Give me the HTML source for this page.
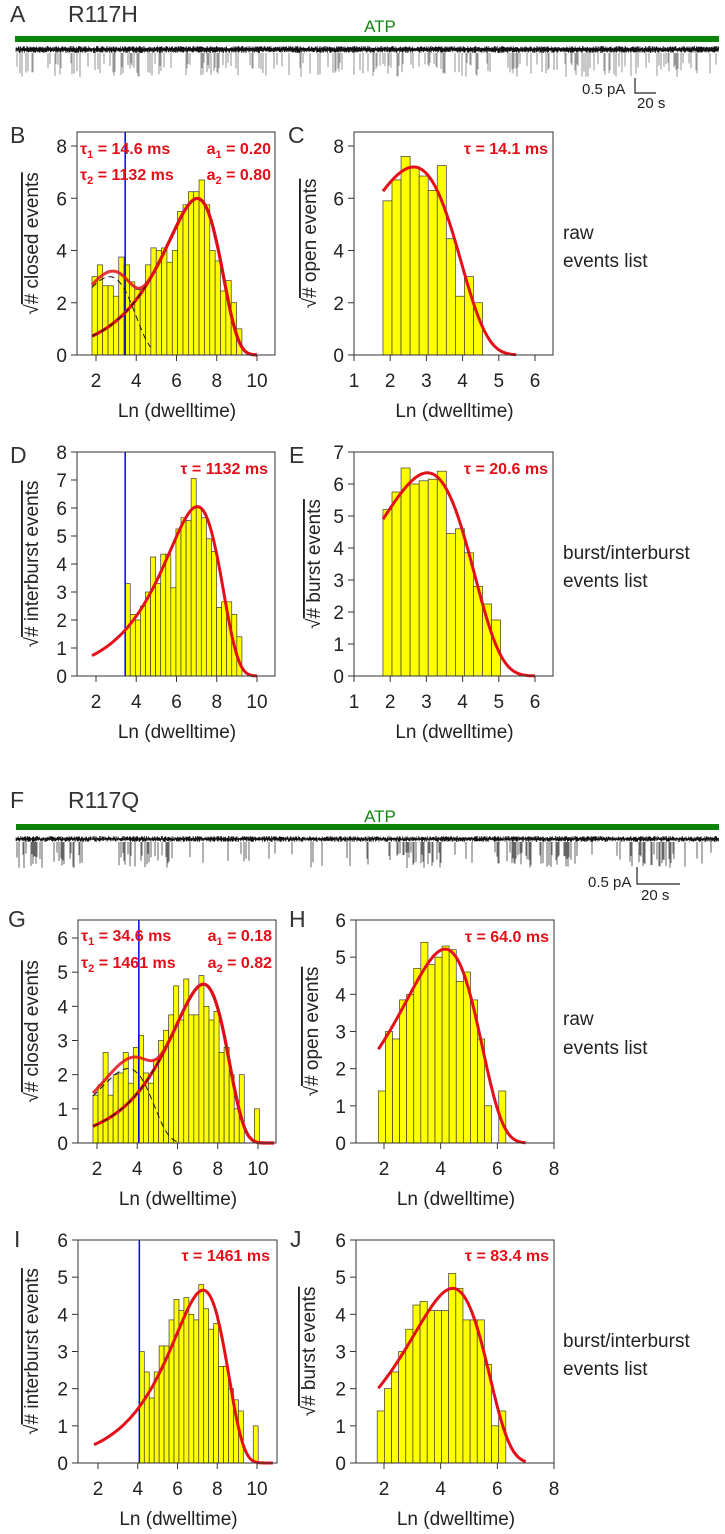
<!DOCTYPE html>
<html><head><meta charset="utf-8"><style>
html,body{margin:0;padding:0;background:#fff}
svg{display:block;font-family:"Liberation Sans",Arial,sans-serif}
.lt{font-size:23px;fill:#333}
.yt{font-size:19px;fill:#222}
.xt{font-size:19px;fill:#222}
.an{font-size:16px;font-weight:bold;fill:#e3101a}
.rt{font-size:19px;fill:#222}
.sb{font-size:15px;fill:#222}
</style></head><body>
<svg id="fig" width="725" height="1534" viewBox="0 0 725 1534">
<g>
<text class="lt" x="10" y="22">A</text>
<text class="lt" x="68" y="22">R117H</text>
<text x="380" y="32" text-anchor="middle" font-size="17" fill="#118811">ATP</text>
<rect x="15" y="36" width="704" height="6" fill="#0a850a"/>
<g id="traceA"></g>
<text class="sb" x="582" y="94">0.5 pA</text>
<path d="M635 78 V93 H656" stroke="#222" fill="none" stroke-width="1.2"/>
<text class="sb" x="637" y="108">20 s</text>
</g>
<g>
<text class="lt" x="10" y="808">F</text>
<text class="lt" x="68" y="808">R117Q</text>
<text x="380" y="822" text-anchor="middle" font-size="17" fill="#118811">ATP</text>
<rect x="16" y="824" width="703" height="6" fill="#0a850a"/>
<g id="traceF"></g>
<text class="sb" x="588" y="887">0.5 pA</text>
<path d="M637 867 V884 H680" stroke="#222" fill="none" stroke-width="1.2"/>
<text class="sb" x="641" y="900">20 s</text>
</g>
<g>
<text class="lt" x="10" y="143">B</text>
<text class="lt" x="288" y="143">C</text>
<text class="lt" x="10" y="463">D</text>
<text class="lt" x="289" y="463">E</text>
<text class="lt" x="8" y="927">G</text>
<text class="lt" x="289" y="927">H</text>
<text class="lt" x="14" y="1247">I</text>
<text class="lt" x="290" y="1247">J</text>
</g>
<g>
<text class="rt" x="563" y="239">raw</text>
<text class="rt" x="563" y="267">events list</text>
<text class="rt" x="563" y="559">burst/interburst</text>
<text class="rt" x="563" y="587">events list</text>
<text class="rt" x="563" y="1025">raw</text>
<text class="rt" x="563" y="1054">events list</text>
<text class="rt" x="563" y="1347">burst/interburst</text>
<text class="rt" x="563" y="1375">events list</text>
</g>
<g id="plots"></g>
<g>
<text class="an" x="80" y="154">τ<tspan font-size="11" dy="4">1</tspan><tspan dy="-4"> = 14.6 ms</tspan></text>
<text class="an" x="80" y="180">τ<tspan font-size="11" dy="4">2</tspan><tspan dy="-4"> = 1132 ms</tspan></text>
<text class="an" x="271" y="154" text-anchor="end">a<tspan font-size="11" dy="4">1</tspan><tspan dy="-4"> = 0.20</tspan></text>
<text class="an" x="271" y="180" text-anchor="end">a<tspan font-size="11" dy="4">2</tspan><tspan dy="-4"> = 0.80</tspan></text>
<text class="an" x="548" y="154" text-anchor="end">τ = 14.1 ms</text>
<text class="an" x="268" y="474" text-anchor="end">τ = 1132 ms</text>
<text class="an" x="548" y="474" text-anchor="end">τ = 20.6 ms</text>
<text class="an" x="81" y="941">τ<tspan font-size="11" dy="4">1</tspan><tspan dy="-4"> = 34.6 ms</tspan></text>
<text class="an" x="81" y="968">τ<tspan font-size="11" dy="4">2</tspan><tspan dy="-4"> = 1461 ms</tspan></text>
<text class="an" x="272" y="941" text-anchor="end">a<tspan font-size="11" dy="4">1</tspan><tspan dy="-4"> = 0.18</tspan></text>
<text class="an" x="272" y="968" text-anchor="end">a<tspan font-size="11" dy="4">2</tspan><tspan dy="-4"> = 0.82</tspan></text>
<text class="an" x="549" y="942" text-anchor="end">τ = 64.0 ms</text>
<text class="an" x="270" y="1261" text-anchor="end">τ = 1461 ms</text>
<text class="an" x="549" y="1261" text-anchor="end">τ = 83.4 ms</text>
</g>
</svg>
<script>
// ---- data ----
const startB=1.8, endB=9.25;
const closedB=[3.0,3.45,2.65,2.65,2.25,3.75,3.45,2.8,2.5,2.5,3.45,4.1,4.0,4.1,3.55,4.0,5.5,5.75,6.25,6.25,6.7,5.75,4.0,3.6,2.45,2.85,2.0,1.0];
const tauB=[14.6,1132], aB=[0.20,0.80], ampB=122, cutB=3.45;
const startC=1.8, endC=4.55;
const openC=[5.9,6.7,7.6,7.15,6.85,6.3,7.25,4.45,2.25,3.0,2.0];
const tauC=[14.1], aC=[1], ampC=140.8;
const startD=3.45, endD=9.25;
const interD=[3.3,2.2,2.0,2.5,3.0,4.25,3.3,4.35,4.35,3.15,5.25,5.65,5.55,7.05,6.0,5.65,4.9,4.45,2.45,2.65,2.65,2.2,1.4];
const tauD=[1132], aD=[1], ampD=99.5, cutD=3.45;
const startE=1.8, endE=5.05;
const burstE=[5.2,5.75,6.5,6.0,6.1,6.15,6.4,4.45,4.6,3.85,2.8,2.25,1.75];
const tauE=[20.6], aE=[1], ampE=109.6;
const startG=1.8, endG=10.07;
const closedG=[1.4,1.7,2.65,1.4,2.0,2.05,2.65,1.75,2.8,3.15,2.05,1.75,2.45,3.0,3.3,3.75,4.6,3.6,4.8,3.75,3.75,4.9,4.0,3.6,3.85,2.65,2.8,2.0,1.0,2.0,0,0,1.0];
const tauG=[34.6,1461], aG=[0.18,0.82], ampG=71.6, cutG=4.08;
const startH=1.8, endH=6.3;
const openH=[1.4,3.0,2.8,3.85,4.0,4.7,5.4,4.8,5.0,5.3,5.2,4.35,4.6,3.85,2.8,1.0,0,1.4];
const tauH=[64.0], aH=[1], ampH=74;
const startI=4.08, endI=10.06;
const interI=[3.0,2.45,1.75,2.45,3.15,3.15,3.85,4.4,4.1,4.45,4.0,3.85,4.8,4.15,3.6,3.75,2.6,2.6,2.0,1.7,1.4,0,0,1.0];
const tauI=[1461], aI=[1], ampI=58.8, cutI=4.08;
const startJ=1.76, endJ=6.3;
const burstJ=[1.4,2.0,2.45,3.0,3.6,4.25,4.35,4.1,4.1,4.1,5.1,4.7,3.85,3.85,3.85,2.65,1.0,1.4];
const tauJ=[83.4], aJ=[1], ampJ=60;
const ticksX10=[2,4,6,8,10], ticksX6=[1,2,3,4,5,6], ticksX8=[2,4,6,8];
const ticksY8=[0,2,4,6,8], ticksY8b=[0,1,2,3,4,5,6,7,8], ticksY7=[0,1,2,3,4,5,6,7], ticksY6=[0,1,2,3,4,5,6];

const NS='http://www.w3.org/2000/svg';
function mk(tag,attrs,parent){const e=document.createElementNS(NS,tag);for(const k in attrs)e.setAttribute(k,attrs[k]);parent.appendChild(e);return e;}
function lin(a){const s=(a[3]-a[1])/(a[2]-a[0]);return v=>a[1]+(v-a[0])*s;}
function fitVal(x,tau,a,amp){let s=0;for(let i=0;i<tau.length;i++){const z=x-Math.log(tau[i]);s+=amp*a[i]*Math.exp(z)*Math.exp(-Math.exp(z));}return Math.sqrt(s);}
function comp(x,tau,a,amp){const z=x-Math.log(tau);return Math.sqrt(amp*a*Math.exp(z)*Math.exp(-Math.exp(z)));}

const plots=document.getElementById('plots');
function panel(p){
  const g=mk('g',{},plots);
  
  
  const X=lin(p.xa), Y=lin(p.ya);
  // bars
  const bw=(p.end-p.start)/p.h.length;
  p.h.forEach((v,i)=>{ if(v<=0) return;
    const x0=X(p.start+i*bw), x1=X(p.start+(i+1)*bw);
    const r=mk('rect',{x:x0,y:Y(v),width:x1-x0,height:Y(0)-Y(v),fill:'#ffff00',stroke:'#3a3a2a','stroke-width':0.7},g);
    
    
  });
  // cut line
  if(p.cut!==undefined){
    const l=mk('line',{x1:X(p.cut),x2:X(p.cut),y1:p.T,y2:p.B,stroke:'#0000ff','stroke-width':1.5},g);
    
    
  }
  // dashed components for two-component fits
  if(p.tau.length>1){
    for(let c=0;c<2;c++){
      let d='';const xe=c===0?p.dash1:p.fitEnd;
      for(let x=1.8;x<=xe+1e-9;x+=0.05){d+=(d?'L':'M')+X(x).toFixed(1)+' '+Y(comp(x,p.tau[c],p.a[c],p.amp)).toFixed(1);}
      if(c===1){
        const pr=mk('path',{d:d,fill:'none',stroke:'#e3101a','stroke-width':3.2},g);
        
        
      }
      const pd=mk('path',{d:d,fill:'none',stroke:'#111','stroke-width':1,'stroke-dasharray':'6 4'},g);
      
      
    }
  }
  let d='';
  for(let x=1.8;x<=p.fitEnd+1e-9;x+=0.04){d+=(d?'L':'M')+X(x).toFixed(1)+' '+Y(fitVal(x,p.tau,p.a,p.amp)).toFixed(1);}
  const f=mk('path',{d:d,fill:'none',stroke:'#e3101a','stroke-width':3,'stroke-linejoin':'round',opacity:p.tau.length>1?0.85:1},g);
  
  
  // box
  const bx=mk('rect',{x:p.L,y:p.T,width:p.R-p.L,height:p.B-p.T,fill:'none',stroke:'#333','stroke-width':1},g);
  
  
  // x ticks
  const xa=mk('g',{},g);
  
  
  mk('line',{x1:X(p.xt[0]),x2:X(p.xt[p.xt.length-1]),y1:p.B,y2:p.B,stroke:'#333'},xa);
  p.xt.forEach(v=>{
    const t=mk('line',{x1:X(v),x2:X(v),y1:p.B,y2:p.B+6,stroke:'#333'},xa);
    
    
    const tx=mk('text',{x:X(v),y:p.B+32,'text-anchor':'middle','class':'yt'},xa);
    tx.textContent=v;
    
    
  });
  const ya=mk('g',{},g);
  
  
  p.yt.forEach(v=>{
    const t=mk('line',{x1:p.L-6,x2:p.L,y1:Y(v),y2:Y(v),stroke:'#333'},ya);
    
    
    const tx=mk('text',{x:p.L-10,y:Y(v)+7,'text-anchor':'end','class':'yt'},ya);
    tx.textContent=v;
    
    
  });
  const xt=mk('text',{x:(p.L+p.R)/2+1,y:p.B+62,'text-anchor':'middle','class':'xt'},g);
  xt.textContent='Ln (dwelltime)';
  
  
  const cy=(p.T+p.B)/2;
  const yt=mk('text',{x:0,y:0,'text-anchor':'middle','class':'xt',transform:'translate('+p.ytx+','+cy+') rotate(-90)'},g);
  
  
  const s1=mk('tspan',{},yt); s1.textContent='√';
  const s2=mk('tspan',{'text-decoration':'overline'},yt); s2.textContent='# '+p.ylab;
}
panel({id:'b',L:77,R:275,T:132,B:355,xa:[2,96,10,257],ya:[0,355,8,146],start:startB,end:endB,h:closedB,tau:tauB,a:aB,amp:ampB,cut:cutB,fitEnd:10,dash1:4.7,xt:ticksX10,yt:ticksY8,ylab:'closed events',ytx:38});
panel({id:'c',L:354,R:553,T:132,B:355,xa:[1,354,6,535],ya:[0,355,8,146],start:startC,end:endC,h:openC,tau:tauC,a:aC,amp:ampC,fitEnd:5.5,xt:ticksX6,yt:ticksY8,ylab:'open events',ytx:316});
panel({id:'d',L:77,R:275,T:452,B:676,xa:[2,96,10,257],ya:[0,676,8,452],start:startD,end:endD,h:interD,tau:tauD,a:aD,amp:ampD,cut:cutD,fitEnd:10,xt:ticksX10,yt:ticksY8b,ylab:'interburst events',ytx:38});
panel({id:'e',L:354,R:553,T:452,B:676,xa:[1,354,6,535],ya:[0,676,7,452],start:startE,end:endE,h:burstE,tau:tauE,a:aE,amp:ampE,fitEnd:6.0,xt:ticksX6,yt:ticksY7,ylab:'burst events',ytx:320});
panel({id:'g',L:78,R:276,T:920,B:1143,xa:[2,97,10,258],ya:[0,1143,6,938],start:startG,end:endG,h:closedG,tau:tauG,a:aG,amp:ampG,cut:cutG,fitEnd:10.8,dash1:6.0,xt:ticksX10,yt:ticksY6,ylab:'closed events',ytx:38});
panel({id:'h',L:356,R:554,T:920,B:1143,xa:[2,384,8,554],ya:[0,1143,6,920],start:startH,end:endH,h:openH,tau:tauH,a:aH,amp:ampH,fitEnd:7.0,xt:ticksX8,yt:ticksY6,ylab:'open events',ytx:318});
panel({id:'i',L:78,R:277,T:1240,B:1463,xa:[2,98,10,257],ya:[0,1463,6,1240],start:startI,end:endI,h:interI,tau:tauI,a:aI,amp:ampI,cut:cutI,fitEnd:10.8,xt:ticksX10,yt:ticksY6,ylab:'interburst events',ytx:38});
panel({id:'j',L:356,R:554,T:1240,B:1463,xa:[2,384,8,554],ya:[0,1463,6,1240],start:startJ,end:endJ,h:burstJ,tau:tauJ,a:aJ,amp:ampJ,fitEnd:7.0,xt:ticksX8,yt:ticksY6,ylab:'burst events',ytx:315});

// ---- noise traces (texture) ----
function trace(id,y0,y1,depth,clustered,seed){
  let s=seed;const rnd=()=>{s=(s*1103515245+12345)%2147483648;return s/2147483648;};
  const g=document.getElementById(id);
  let band='',sp='';
  for(let x=16;x<719;x+=0.6){const a=y0+rnd()*2.5,b=y1-rnd()*2.5;band+='M'+x.toFixed(1)+' '+a.toFixed(1)+'V'+b.toFixed(1);}
  for(let x=16;x<719;x+=1){
    let p=clustered?(Math.sin(x*0.05)+Math.sin(x*0.013+1)>0.3?0.45:0.08):0.3;
    if(rnd()<p){const L=depth*(0.4+rnd()*0.6);sp+='M'+x+' '+y1+'V'+(y1+L).toFixed(1);}
  }
  const p1=mk('path',{d:sp,stroke:clustered?'#222':'#666','stroke-width':0.7,fill:'none'},g);
  
  
  const p2=mk('path',{d:band,stroke:'#111','stroke-width':0.7,fill:'none'},g);
  
  
}
trace('traceA',46,53,24,false,7);
trace('traceF',836,842,26,true,11);
</script>
</body></html>
